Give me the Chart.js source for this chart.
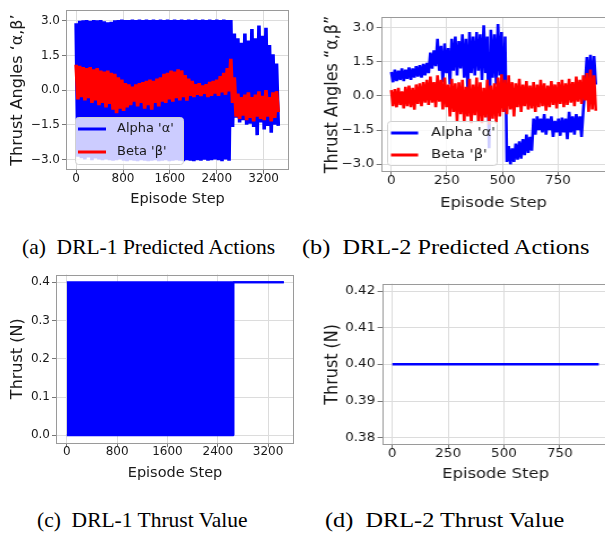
<!DOCTYPE html>
<html>
<head>
<meta charset="utf-8">
<script src="https://cdn.jsdelivr.net/npm/chart.js@4.4.1/dist/chart.umd.min.js"></script>
<style>
  body { margin: 0; background: #fff; }
  #fig { position: relative; width: 605px; height: 534px; overflow: hidden; background: #fff; }
  #fig canvas { position: absolute; }
  /* right-hand panels are set a little wider than the left ones */
  #fig .wide { transform: scaleX(1.13); transform-origin: 0 0; }
  .cap { position: absolute; font-family: 'Liberation Serif', 'Times New Roman', serif; font-size: 21.5px; line-height: 24px; color: #000; white-space: pre; }
</style>
</head>
<body>
<div id="fig">
  <canvas id="drl1Angles" width="300" height="215" style="left:0;top:0"></canvas>
  <canvas id="drl2Angles" class="wide" width="274" height="215" style="left:300px;top:0"></canvas>
  <canvas id="drl1Thrust" width="300" height="225" style="left:0;top:265px"></canvas>
  <canvas id="drl2Thrust" class="wide" width="275" height="225" style="left:300px;top:265px"></canvas>
  <div class="cap" style="left:22px;top:235px">(a)  DRL-1 Predicted Actions</div>
  <div class="cap wide" style="left:302px;top:235px">(b)  DRL-2 Predicted Actions</div>
  <div class="cap" style="left:37px;top:508px">(c)  DRL-1 Thrust Value</div>
  <div class="cap wide" style="left:325px;top:508px">(d)  DRL-2 Thrust Value</div>
</div>
<script>
// episode steps between stored samples
const stepA = 30;
const stepB = 8;

// DRL-1 predicted angles (rad), one sample every stepA steps
const alphaA = [
  2.9, -2.88, 3.0, -2.95, 3.02, -3.0, 3.04, -2.92, 3.0, -3.04,
  3.04, -2.96, 3.02, -3.0, 3.04, -3.04, 2.98, -3.0, 2.94, -3.04,
  2.96, -3.06, 3.02, -3.04, 3.04, -3.0, 3.06, -3.06, 3.04, -3.08,
  3.04, -3.04, 3.06, -3.06, 3.04, -3.08, 3.06, -3.04, 3.04, -3.06,
  3.06, -3.08, 3.04, -3.06, 3.06, -3.04, 3.04, -3.08, 3.06, -3.06,
  3.04, -3.04, 3.06, -3.08, 3.04, -3.06, 3.06, -3.04, 3.04, -3.06,
  3.06, -3.08, 3.04, -3.04, 3.06, -3.06, 3.04, -3.08, 3.06, -3.04,
  3.04, -3.06, 3.06, -3.02, 3.04, -3.06, 3.06, -3.04, 3.04, -3.0,
  3.06, -3.04, 3.04, -3.08, 3.06, -3.0, 3.04, -3.06, 3.04, -1.6,
  2.45, -1.2, 2.25, -1.4, 2.05, -1.3, 2.45, -1.5, 2.15, -1.45,
  2.65, -1.6, 2.25, -1.95, 2.8, -1.4, 2.35, -1.7, 2.7, -1.55,
  1.95, -1.85, 1.55, -1.5, 1.15, -1.55
];
const betaA = [
  1.1, -0.4, 1.05, -0.3, 1.0, -0.45, 0.95, -0.35, 1.0, -0.55,
  0.9, -0.45, 0.95, -0.65, 0.85, -0.55, 0.8, -0.75, 0.85, -0.6,
  0.75, -0.85, 0.7, -1.0, 0.55, -0.8, 0.45, -0.9, 0.3, -0.75,
  0.25, -0.65, 0.15, -0.5, 0.25, -0.7, 0.3, -0.55, 0.35, -0.8,
  0.4, -0.65, 0.45, -0.85, 0.4, -0.55, 0.5, -0.7, 0.55, -0.5,
  0.7, -0.55, 0.75, -0.4, 0.85, -0.5, 0.8, -0.35, 0.9, -0.45,
  0.85, -0.3, 0.65, -0.45, 0.5, -0.25, 0.4, -0.3, 0.25, -0.2,
  0.3, -0.25, 0.2, -0.15, 0.25, -0.3, 0.35, -0.25, 0.4, -0.15,
  0.45, -0.25, 0.6, -0.1, 0.75, -0.2, 0.95, -0.05, 1.35, -0.55,
  0.55, -1.15, -0.15, -1.25, -0.3, -1.1, -0.2, -1.3, -0.1, -1.2,
  -0.3, -1.35, -0.2, -1.15, -0.05, -1.25, -0.25, -1.3, 0.0, -1.15,
  -0.3, -1.35, -0.1, -1.2, -0.05, -0.95
];

// DRL-2 predicted angles (rad), one sample every stepB steps
const alphaB = [
  1.05, 0.6, 1.15, 0.65, 1.1, 0.7, 1.2, 0.65, 1.15, 0.75,
  1.25, 0.7, 1.2, 0.8, 1.3, 0.85, 1.35, 0.8, 1.4, 0.9,
  1.45, 1.0, 1.9, 1.2, 2.0, 1.3, 2.5, 1.1, 2.2, 0.6,
  2.3, 1.0, 2.1, 0.5, 2.5, 1.1, 2.6, 0.9, 2.4, 1.2,
  2.7, 0.8, 2.5, 0.3, 2.8, 1.0, 2.6, 0.9, 2.8, 1.1,
  2.7, 0.7, 3.1, 1.0, 2.6, -2.3, 2.9, 0.8, 2.7, 0.5,
  3.15, 0.9, 2.8, -0.5, 2.6, -2.9, -2.2, -3.0, -2.3, -2.9,
  -2.1, -2.8, -2.0, -2.75, -1.9, -2.6, -1.7, -2.5, -1.8, -2.4,
  -1.0, -1.7, -0.9, -1.5, -1.0, -1.6, -0.8, -1.7, -1.0, -1.5,
  -0.9, -1.8, -1.1, -1.6, -1.0, -1.75, -0.95, -1.6, -1.0, -1.9,
  -0.7, -1.6, -0.9, -1.7, -0.8, -1.5, -0.9, -1.8, -0.6, 0.4,
  1.7, 0.5, 1.8, 0.3, 1.75, 0.5
];
const betaB = [
  0.25, -0.45, 0.3, -0.5, 0.35, -0.4, 0.2, -0.55, 0.4, -0.45,
  0.45, -0.5, 0.35, -0.6, 0.5, -0.35, 0.55, -0.45, 0.6, -0.3,
  0.7, -0.4, 0.85, -0.3, 0.6, -0.5, 0.9, -0.25, 0.7, -0.6,
  0.8, -0.5, 0.5, -0.9, 0.75, -0.7, 0.55, -1.1, 0.6, -0.8,
  0.7, -1.15, 0.4, -0.9, 0.75, -1.2, 0.5, -0.85, 0.8, -1.1,
  0.6, -1.2, 0.35, -0.95, 0.7, -1.25, 0.45, -1.0, 0.55, -1.15,
  0.8, -0.9, 0.95, -0.7, 0.7, -0.8, 0.9, -0.6, 0.6, -0.9,
  0.55, -0.5, 0.75, -0.7, 0.5, -0.45, 0.65, -0.6, 0.45, -0.55,
  0.6, -0.7, 0.5, -0.5, 0.7, -0.45, 0.55, -0.65, 0.45, -0.5,
  0.65, -0.4, 0.5, -0.55, 0.6, -0.35, 0.7, -0.5, 0.55, -0.4,
  0.75, -0.3, 0.6, -0.45, 0.85, -0.25, 0.7, -0.35, 0.9, -0.2,
  1.0, -0.7, 1.15, -0.6, 0.9, -0.65
];

// DRL-1 thrust: switches 0 / 0.4 N until the policy settles, then holds 0.4 N
const thrustStepsC = [0, 2650, 2650, 3450];
const thrustTopC = [0.4, 0.4, 0.4, 0.4];
const thrustBottomC = [0, 0, 0.4, 0.4];

// DRL-2 thrust: constant
const thrustStepsD = [0, 925];
const thrustD = [0.4, 0.4];

const xTicksA = [0, 800, 1600, 2400, 3200];
const xTicksB = [0, 250, 500, 750];
const yTicksAngle = [-3, -1.5, 0, 1.5, 3];
const yTicksC = [0, 0.1, 0.2, 0.3, 0.4];
const yTicksD = [0.38, 0.39, 0.40, 0.41, 0.42];

const BLUE = '#0000ff';
const RED = '#ff0000';
const INK = '#1a1a1a';

const toPoints = (vals, every) => vals.map((y, i) => ({x: i * every, y}));
const pair = (xs, ys) => xs.map((x, i) => ({x, y: ys[i]}));
const minus = s => s.replace('-', '\u2212');

// full box around the plot area, like matplotlib spines
const framePlugin = {
    id: 'frame',
    afterDatasetsDraw(chart) {
        const {ctx, chartArea: a} = chart;
        ctx.save();
        ctx.strokeStyle = '#9a9a9a';
        ctx.lineWidth = 1;
        ctx.strokeRect(Math.round(a.left) + 0.5, Math.round(a.top) + 0.5,
            Math.round(a.right - a.left) - 1, Math.round(a.bottom - a.top) - 1);
        ctx.restore();
    }
};

// legend box drawn inside the axes
const boxLegend = {
    id: 'boxLegend',
    afterDraw(chart, args, opts) {
        if (!opts.box) return;
        const {ctx} = chart;
        const [x, y, w, h] = opts.box;
        ctx.save();
        ctx.beginPath();
        ctx.roundRect(x + 0.5, y + 0.5, w, h, 3);
        ctx.fillStyle = 'rgba(255,255,255,0.8)';
        ctx.fill();
        ctx.strokeStyle = '#d0d0d0';
        ctx.lineWidth = 1;
        ctx.stroke();
        ctx.font = '13px "DejaVu Sans"';
        ctx.textBaseline = 'middle';
        ctx.fillStyle = INK;
        chart.data.datasets.forEach((ds, i) => {
            const ry = opts.rows[i];
            ctx.strokeStyle = ds.borderColor;
            ctx.lineWidth = 3;
            ctx.beginPath();
            ctx.moveTo(opts.lineX[0], ry);
            ctx.lineTo(opts.lineX[1], ry);
            ctx.stroke();
            ctx.fillText(ds.label, opts.textX, ry);
        });
        ctx.restore();
    }
};

function axis(o) {
    return {
        type: 'linear',
        min: o.min,
        max: o.max,
        afterBuildTicks: s => { s.ticks = o.ticks.map(v => ({value: v})); },
        afterFit: s => { if (o.width) s.width = o.width; if (o.height) s.height = o.height; },
        grid: {color: '#dcdcdc', tickColor: '#777', tickLength: 4, lineWidth: 1},
        border: {display: false},
        ticks: {
            autoSkip: false,
            maxRotation: 0,
            padding: o.tickPad,
            color: INK,
            font: {family: 'DejaVu Sans', size: 12},
            callback: v => minus(v.toFixed(o.dec))
        },
        title: {
            display: true,
            text: o.title,
            color: INK,
            font: {family: 'DejaVu Sans', size: o.titleSize},
            padding: o.titlePad
        }
    };
}

function lineSet(label, data, color, width, extra) {
    return Object.assign({
        label, data,
        borderColor: color,
        backgroundColor: color,
        borderWidth: width,
        pointRadius: 0,
        tension: 0,
        borderJoinStyle: 'bevel',
        fill: false
    }, extra || {});
}

function makeChart(id, datasets, p) {
    return new Chart(document.getElementById(id), {
        type: 'line',
        data: {datasets},
        options: {
            responsive: false,
            animation: false,
            events: [],
            layout: {padding: {top: p.padTop, right: p.padRight, left: 0, bottom: 0}},
            scales: {
                x: axis({min: p.xMin, max: p.xMax, ticks: p.xTicks, dec: 0, height: p.xH,
                    tickPad: -2, title: 'Episode Step', titleSize: 14.5,
                    titlePad: {top: 0, bottom: p.xTitlePad}}),
                y: axis({min: p.yMin, max: p.yMax, ticks: p.yTicks, dec: p.yDec, width: p.yW,
                    tickPad: 2, title: p.yTitle, titleSize: 16,
                    titlePad: {top: p.yTitlePad, bottom: 0}})
            },
            plugins: {
                legend: {display: false},
                tooltip: {enabled: false},
                boxLegend: p.legend || {}
            }
        },
        plugins: [framePlugin, boxLegend]
    });
}

// (a) DRL-1 angles
makeChart('drl1Angles', [
    lineSet("Alpha '\u03b1'", toPoints(alphaA, stepA), BLUE, 3.6, {order: 1}),
    lineSet("Beta '\u03b2'", toPoints(betaA, stepA), RED, 3.6, {order: 0})
], {
    padTop: 10, padRight: 11, xH: 45, yW: 66,
    xMin: -173, xMax: 3633, xTicks: xTicksA, xTitlePad: 7,
    yMin: -3.46, yMax: 3.47, yTicks: yTicksAngle, yDec: 1,
    yTitle: 'Thrust Angles \u2018\u03b1,\u03b2\u2019', yTitlePad: 8.4,
    legend: {box: [75, 117, 108, 47], rows: [129, 152], lineX: [78, 106], textX: 117}
});

// (b) DRL-2 angles
makeChart('drl2Angles', [
    lineSet("Alpha '\u03b1'", toPoints(alphaB, stepB), BLUE, 2.6, {order: 1}),
    lineSet("Beta '\u03b2'", toPoints(betaB, stepB), RED, 2.6, {order: 0})
], {
    padTop: 17, padRight: 3.2, xH: 43, yW: 71.7,
    xMin: -46, xMax: 966, xTicks: xTicksB, xTitlePad: 3,
    yMin: -3.34, yMax: 3.46, yTicks: yTicksAngle, yDec: 1,
    yTitle: 'Thrust Angles \u201c\u03b1,\u03b2\u201d', yTitlePad: 19.6,
    legend: {box: [77, 121, 97, 44], rows: [133, 155], lineX: [80.5, 104.5], textX: 116}
});

// (c) DRL-1 thrust
makeChart('drl1Thrust', [
    lineSet('Thrust', pair(thrustStepsC, thrustTopC), BLUE, 2),
    lineSet('Thrust band', pair(thrustStepsC, thrustBottomC), BLUE, 2, {fill: '-1'})
], {
    padTop: 9.5, padRight: 6, xH: 47, yW: 56,
    xMin: -172, xMax: 3612, xTicks: xTicksA, xTitlePad: 8,
    yMin: -0.02, yMax: 0.42, yTicks: yTicksC, yDec: 1,
    yTitle: 'Thrust (N)', yTitlePad: 8.4
});

// (d) DRL-2 thrust
makeChart('drl2Thrust', [
    lineSet('Thrust', pair(thrustStepsD, thrustD), BLUE, 2.5)
], {
    padTop: 18.7, padRight: 1.5, xH: 45, yW: 72.6,
    xMin: -46, xMax: 971, xTicks: xTicksB, xTitlePad: 7,
    yMin: 0.378, yMax: 0.422, yTicks: yTicksD, yDec: 2,
    yTitle: 'Thrust (N)', yTitlePad: 19.6
});
</script>
</body>
</html>
